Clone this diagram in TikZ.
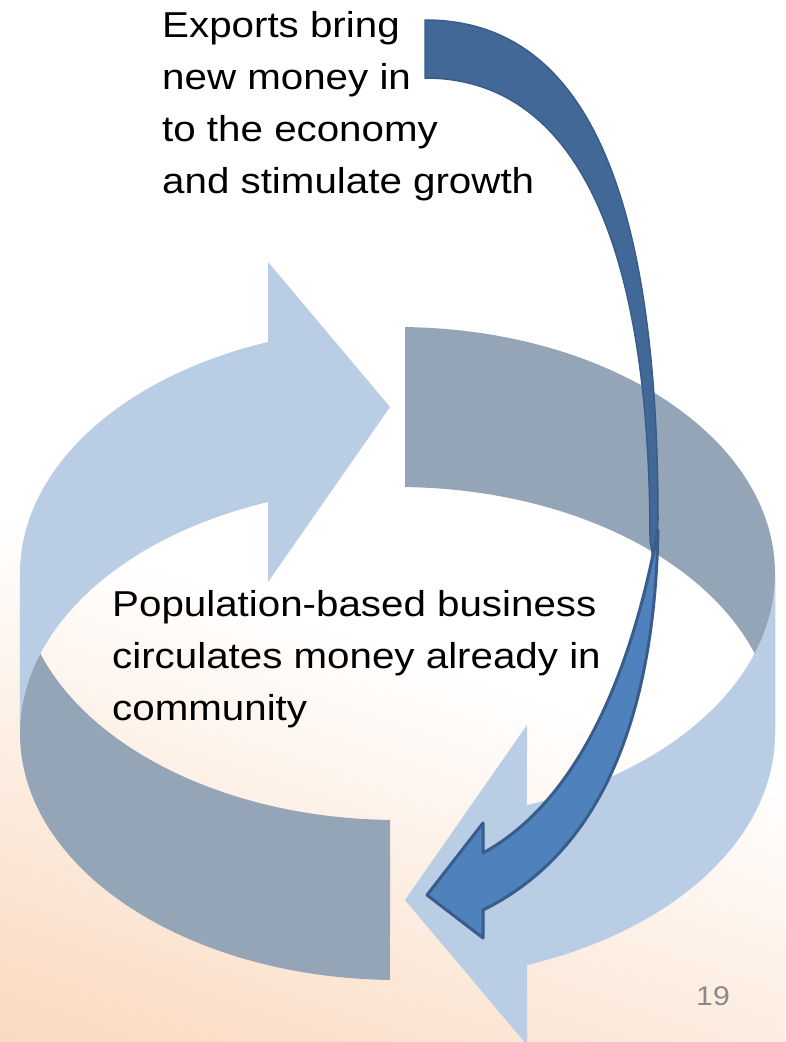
\documentclass[tikz,border=0pt]{standalone}
\usepackage{fontspec}
\setmainfont{Liberation Sans}[FakeStretch=1.12]
\definecolor{peach}{RGB}{249,212,183}
\definecolor{ringlight}{RGB}{185,205,229}
\definecolor{ringdark}{RGB}{149,165,184}
\definecolor{blueback}{RGB}{65,104,151}
\definecolor{bluefront}{RGB}{79,129,189}
\definecolor{blueline}{RGB}{56,93,138}
\definecolor{pagegray}{RGB}{137,137,137}
\pgfdeclareverticalshading{bgshade}{100bp}{color(0bp)=(peach); color(15bp)=(peach); color(44bp)=(white); color(100bp)=(white)}
\newcommand{\ellrx}{377.5}
\newcommand{\ellry}{246.5}
\begin{document}
\begin{tikzpicture}[x=1pt,y=1pt,
  ringL/.style={fill=ringlight},
  ringD/.style={fill=ringdark},
  elarc/.style={x radius=\ellrx, y radius=\ellry},
  txt/.style={font=\fontsize{36}{52}\selectfont, align=left, inner sep=0pt, text=black},
  pnum/.style={font=\fontsize{27}{30}\selectfont, inner sep=0pt, text=pagegray},
  bluebackstyle/.style={fill=blueback, draw=blueline, line width=1.5pt, line join=round},
  bluefrontstyle/.style={fill=bluefront, draw=blueline, line width=3pt, line join=round}]
\useasboundingbox (0,0) rectangle (785,-1042);
\path[shading=bgshade, shading angle=-19] (0,0) rectangle (785,-1042);

% back-right dark band
\fill[ringD] (405,-327.05) arc[start angle=88.86, end angle=0, elarc] -- (775,-733.5)
  arc[start angle=0, end angle=88.86, elarc] -- cycle;
% front-right light arrow
\fill[ringL] (775,-573.5) arc[start angle=360, end angle=290.06, elarc] -- (527,-725) -- (405,-900)
  -- (527,-1045) -- (527,-965) arc[start angle=290.06, end angle=360, elarc] -- cycle;
% front-left dark band
\fill[ringD] (390,-819.95) arc[start angle=268.86, end angle=180, elarc] -- (20,-733.5)
  arc[start angle=180, end angle=268.86, elarc] -- cycle;
% back-left light arrow
\fill[ringL] (20,-573.5) arc[start angle=180, end angle=110.06, elarc] -- (268,-262) -- (390,-407)
  -- (268,-582) -- (268,-502) arc[start angle=110.06, end angle=180, elarc] -- cycle;

% texts (base anchor = baseline of the last line)
\node[txt, anchor=base west] (exports) at (162,-193) {Exports bring\\new money in\\to the economy\\and stimulate growth};
\node[txt, anchor=base west] (population) at (112,-720) {Population-based business\\circulates money already in\\community};
\node[pnum, anchor=base west] (pagenum) at (696,-1005) {19};

% blue curved arrow: back part
\path[bluebackstyle] (425,-20) .. controls (580,-20) and (658,-180) .. (658,-520)
  -- (655,-570) -- (650,-540) .. controls (650,-220) and (565,-78) .. (425,-78) -- cycle;
% blue curved arrow: front part with head
\path[bluefrontstyle] (658,-530) .. controls (655,-690) and (615,-845) .. (483,-910)
  -- (483,-938) -- (427,-895) -- (483,-823) -- (483,-853)
  .. controls (580,-800) and (630,-670) .. (655,-545) -- cycle;
\end{tikzpicture}
\end{document}
